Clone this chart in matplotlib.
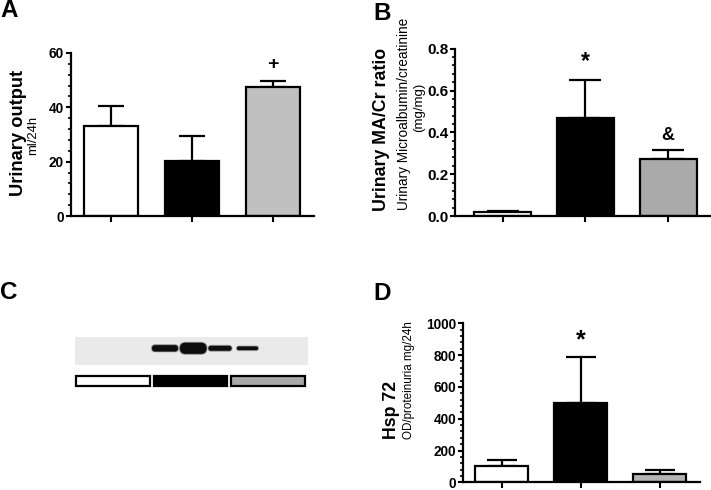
import matplotlib
matplotlib.use("Agg")
import matplotlib.pyplot as plt
from matplotlib.patches import Rectangle, FancyBboxPatch
from matplotlib.ticker import MultipleLocator

plt.rcParams['font.family'] = ['Liberation Sans', 'DejaVu Sans']

W, H = 711, 490

# --- data ---
output_mean = [33, 20.2, 47.6]
output_err = [7.5, 9.4, 2.2]
output_marks = ['', '', '+']
output_ticks = [0, 20, 40, 60]
output_colors = ['white', 'black', '#c0c0c0']

ratio_mean = [0.02, 0.47, 0.274]
ratio_err = [0.003, 0.18, 0.043]
ratio_marks = ['', '*', '&']
ratio_ticks = [0.0, 0.2, 0.4, 0.6, 0.8]
ratio_colors = ['white', 'black', '#aaaaaa']

hsp_mean = [103, 500, 50]
hsp_err = [37, 290, 30]
hsp_marks = ['', '*', '']
hsp_ticks = [0, 200, 400, 600, 800, 1000]
hsp_colors = ['white', 'black', '#b4b4b4']

# western blot bands (pixel units of the blot strip)
band_left = [152, 180, 208.5, 237]
band_right = [178, 206.5, 231.5, 258]
band_h = [7.2, 12, 5.8, 4.5]
blot_group_colors = ['white', 'black', '#a8a8a8']


def px_axes(fig, left, top, right, bottom):
    return fig.add_axes([left / W, 1 - bottom / H, (right - left) / W, (bottom - top) / H])


def bar_panel(ax, means, errs, colors, marks, ticks, minor, labels,
              xlim, width, capsize, tick_size, mark_sizes, mark_offsets):
    x = list(range(len(means)))
    ax.bar(x, means, width=width, color=colors, edgecolor='black', linewidth=1.6, zorder=2)
    ax.errorbar(x, means, yerr=[[0] * len(errs), errs], fmt='none', ecolor='black',
                elinewidth=1.6, capsize=capsize, capthick=1.6, zorder=1)
    for i, m in enumerate(marks):
        if m:
            ax.annotate(m, xy=(i, means[i] + errs[i]), xytext=(0, mark_offsets[i]),
                        textcoords='offset points', ha='center', va='baseline',
                        fontsize=mark_sizes[i], fontweight='bold', annotation_clip=False)
    ax.set_xlim(*xlim)
    ax.set_ylim(ticks[0], ticks[-1])
    ax.set_yticks(ticks)
    ax.set_yticklabels(labels, fontweight='bold', fontsize=tick_size)
    ax.yaxis.set_minor_locator(MultipleLocator(minor))
    ax.set_xticks(x)
    ax.set_xticklabels([])
    for s in ['top', 'right']:
        ax.spines[s].set_visible(False)
    for s in ['left', 'bottom']:
        ax.spines[s].set_linewidth(1.6)
    ax.tick_params(axis='y', which='major', length=3.6, width=1.5, pad=1.2)
    ax.tick_params(axis='y', which='minor', length=2.4, width=1.2)
    ax.tick_params(axis='x', which='major', length=4, width=1.5)
    ax.patch.set_alpha(0)


fig = plt.figure(figsize=(W / 100, H / 100), dpi=100)

# A
axA = px_axes(fig, 70.5, 53, 313.5, 216)
bar_panel(axA, output_mean, output_err, output_colors, output_marks, output_ticks, 4,
          ['0', '20', '40', '60'], (-0.5, 2.5), 0.667, 9.6, 9.8,
          [0, 0, 14], [0, 0, 8.6])

# B
axB = px_axes(fig, 455, 48.7, 711, 216)
bar_panel(axB, ratio_mean, ratio_err, ratio_colors, ratio_marks, ratio_ticks, 0.04,
          ['0.0', '0.2', '0.4', '0.6', '0.8'], (-0.58, 2.52), 0.69, 11.4, 11,
          [0, 16.5, 13], [0, 8.5, 7])

# D
axD = px_axes(fig, 463, 323.3, 700, 482.3)
bar_panel(axD, hsp_mean, hsp_err, hsp_colors, hsp_marks, hsp_ticks, 40,
          [str(t) for t in hsp_ticks], (-0.49, 2.51), 0.67, 10.5, 9.8,
          [0, 18, 0], [0, 6.8, 0])

# C - blot strip and group key
axC = px_axes(fig, 70, 330, 313, 390)
axC.set_xlim(70, 313)
axC.set_ylim(390, 330)
axC.axis('off')
axC.add_patch(Rectangle((75, 337), 233, 28, facecolor='#eaeaea', edgecolor='none'))
for bl, br, bh in zip(band_left, band_right, band_h):
    for grow, col, a in [(2.4, '#888888', 0.35), (1.2, '#333333', 0.6), (0, '#0d0d0d', 1.0)]:
        h = bh - 1 + grow
        axC.add_patch(FancyBboxPatch((bl + h / 2 - grow / 2, 348.3), br - bl - h + grow, 0,
                                     boxstyle=f'round,pad={h / 2},rounding_size={h / 2}',
                                     facecolor=col, alpha=a, edgecolor='none'))
seg = 233 / 3
for i, c in enumerate(blot_group_colors):
    axC.add_patch(Rectangle((75 + i * seg + 1, 376), seg - 4, 10, facecolor=c,
                            edgecolor='black', linewidth=1.6))

# axis titles
def ftext(x, y, s, size, weight='normal', rot=90, ha='center', va='center'):
    fig.text(x / W, 1 - y / H, s, fontsize=size, fontweight=weight, rotation=rot, ha=ha, va=va)

ftext(18.3, 133, 'Urinary output', 13.2, 'bold')
ftext(32.7, 135.5, 'ml/24h', 9.4)
ftext(381, 129.5, 'Urinary MA/Cr ratio', 12.8, 'bold')
ftext(404, 113.5, 'Urinary Microalbumin/creatinine', 9.8)
ftext(419, 107.5, '(mg/mg)', 9.5)
ftext(391.5, 410, 'Hsp 72', 12.8, 'bold')
ftext(409, 380.5, 'OD/proteinuria mg/24h', 8.4)

# panel letters
ftext(0, 17, 'A', 17.5, 'bold', rot=0, ha='left', va='baseline')
ftext(373, 19.5, 'B', 17.5, 'bold', rot=0, ha='left', va='baseline')
ftext(0, 299, 'C', 17.5, 'bold', rot=0, ha='left', va='baseline')
ftext(373, 300, 'D', 17.5, 'bold', rot=0, ha='left', va='baseline')

fig.savefig('out.png', dpi=100)
